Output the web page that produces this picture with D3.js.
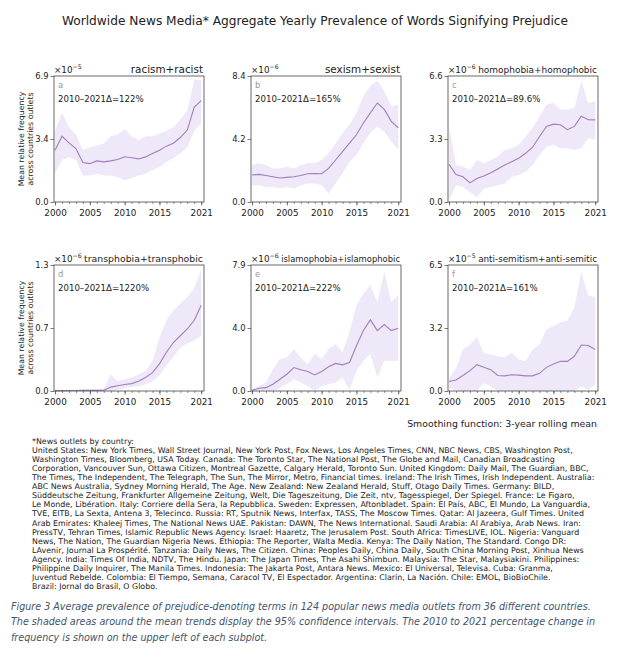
<!DOCTYPE html>
<html>
<head>
<meta charset="utf-8">
<script src="https://cdn.jsdelivr.net/npm/d3@7"></script>
<style>
  body { margin: 0; background: #fff; }
  text { font-family: "DejaVu Sans", sans-serif; }
</style>
</head>
<body>
<svg id="chart" width="628" height="651"></svg>
<script>
// years 2000..2021
const years = d3.range(2000, 2022);

// panel labels
const panelTitles = ["racism+racist", "sexism+sexist", "homophobia+homophobic",
  "transphobia+transphobic", "islamophobia+islamophobic", "anti-semitism+anti-semitic"];
const panelLetters = ["a", "b", "c", "d", "e", "f"];
const panelDeltas = ["122%", "165%", "89.6%", "1220%", "222%", "161%"];
const panelExponents = ["5", "6", "6", "6", "6", "5"];
const yMaxes = [6.9, 8.4, 6.6, 1.3, 7.9, 6.5];
const yTickLabels = [["0.0", "3.4", "6.9"], ["0.0", "4.2", "8.4"], ["0.0", "3.3", "6.6"],
  ["0.0", "0.7", "1.3"], ["0.0", "4.0", "7.9"], ["0.0", "3.2", "6.5"]];
const xTickValues = [2000, 2005, 2010, 2015, 2021];

// mean relative frequency (in units of the panel exponent)
const racismMean = [2.84, 3.6, 3.24, 2.93, 2.16, 2.1, 2.25, 2.2, 2.25, 2.33, 2.48, 2.42, 2.36, 2.47, 2.66, 2.84, 3.06, 3.22, 3.53, 3.94, 5.2, 5.55];
const racismUpper = [3.9, 4.9, 4.1, 3.7, 2.85, 3.0, 3.1, 3.2, 3.6, 3.7, 4.0, 3.6, 3.4, 3.6, 3.6, 3.75, 3.9, 4.1, 4.5, 5.0, 6.7, 6.7];
const racismLower = [1.55, 2.3, 2.45, 2.3, 1.45, 1.45, 1.55, 1.45, 1.45, 1.35, 1.2, 1.3, 1.45, 1.55, 1.75, 1.9, 2.2, 2.4, 2.65, 3.0, 3.9, 4.3];

const sexismMean = [1.8, 1.84, 1.77, 1.68, 1.6, 1.64, 1.68, 1.77, 1.88, 1.9, 1.88, 2.24, 2.8, 3.36, 3.92, 4.48, 5.27, 5.94, 6.6, 6.17, 5.38, 4.95];
const sexismUpper = [2.47, 2.58, 2.47, 2.24, 2.24, 2.35, 2.24, 2.47, 2.58, 2.58, 2.8, 3.25, 3.9, 4.6, 5.16, 5.94, 7.06, 7.73, 8.07, 7.4, 6.39, 6.5];
const sexismLower = [1.12, 1.12, 1.0, 1.0, 0.9, 1.0, 0.9, 1.12, 1.23, 1.23, 1.12, 0.56, 1.23, 1.9, 2.69, 3.14, 3.92, 4.6, 5.04, 4.7, 4.03, 3.47];

const homophobiaMean = [1.97, 1.44, 1.32, 1.0, 1.23, 1.36, 1.53, 1.73, 1.94, 2.11, 2.29, 2.55, 2.87, 3.43, 3.96, 4.08, 4.05, 3.79, 3.96, 4.49, 4.31, 4.3];
const homophobiaUpper = [3.96, 1.94, 1.85, 1.67, 2.2, 2.02, 2.2, 2.38, 2.73, 2.82, 2.99, 3.43, 3.87, 4.49, 5.1, 5.19, 4.84, 4.84, 4.93, 6.34, 5.19, 5.28];
const homophobiaLower = [0.09, 0.88, 0.79, 0.53, 0.26, 0.7, 0.79, 0.88, 0.97, 1.32, 1.41, 1.58, 1.94, 2.46, 2.9, 2.99, 2.82, 2.82, 2.73, 2.82, 3.34, 3.26];

const transphobiaMean = [0.004, 0.004, 0.005, 0.005, 0.006, 0.006, 0.006, 0.007, 0.04, 0.055, 0.067, 0.076, 0.1, 0.14, 0.19, 0.28, 0.4, 0.5, 0.57, 0.64, 0.73, 0.885];
const transphobiaUpper = [0.01, 0.01, 0.01, 0.012, 0.012, 0.012, 0.014, 0.02, 0.17, 0.1, 0.12, 0.14, 0.17, 0.21, 0.31, 0.55, 0.73, 0.83, 0.9, 0.97, 1.06, 1.25];
const transphobiaLower = [0, 0, 0, 0, 0, 0, 0, 0, 0.0, 0.01, 0.03, 0.04, 0.05, 0.07, 0.1, 0.16, 0.26, 0.35, 0.45, 0.49, 0.52, 0.57];

const islamophobiaMean = [0.04, 0.17, 0.21, 0.42, 0.74, 1.05, 1.47, 1.33, 1.22, 1.01, 1.22, 1.52, 1.73, 1.64, 1.79, 2.84, 3.79, 4.46, 3.79, 4.17, 3.79, 3.93];
const islamophobiaUpper = [0.1, 0.32, 0.53, 1.37, 2.0, 2.1, 2.63, 2.1, 1.68, 2.32, 2.0, 2.63, 2.95, 2.42, 3.68, 5.37, 6.1, 6.63, 5.58, 7.47, 5.58, 6.0];
const islamophobiaLower = [0, 0.05, 0.05, 0, 0.21, 0.42, 0.74, 0.53, 0.32, 0, 0.32, 0.42, 0.53, 0.84, 0.1, 1.26, 1.89, 2.32, 0.84, 1.89, 1.89, 1.89];

const antisemitismMean = [0.49, 0.57, 0.8, 1.05, 1.36, 1.22, 1.1, 0.8, 0.78, 0.84, 0.82, 0.78, 0.78, 0.91, 1.22, 1.39, 1.53, 1.53, 1.79, 2.37, 2.35, 2.14];
const antisemitismUpper = [0.66, 1.18, 2.14, 2.4, 2.79, 1.97, 1.88, 1.79, 1.74, 1.97, 1.62, 1.53, 2.14, 2.4, 3.19, 3.36, 3.54, 3.62, 4.32, 6.15, 4.93, 4.84];
const antisemitismLower = [0.14, 0.05, 0, 0, 0, 0.4, 0.23, 0, 0, 0, 0, 0, 0, 0, 0, 0, 0, 0, 0, 0.23, 0.05, 0.31];

const means = [racismMean, sexismMean, homophobiaMean, transphobiaMean, islamophobiaMean, antisemitismMean];
const uppers = [racismUpper, sexismUpper, homophobiaUpper, transphobiaUpper, islamophobiaUpper, antisemitismUpper];
const lowers = [racismLower, sexismLower, homophobiaLower, transphobiaLower, islamophobiaLower, antisemitismLower];

const footnoteLines = [
  "*News outlets by country:",
  "United States: New York Times, Wall Street Journal, New York Post, Fox News, Los Angeles Times, CNN, NBC News, CBS, Washington Post,",
  "Washington Times, Bloomberg, USA Today. Canada: The Toronto Star, The National Post, The Globe and Mail, Canadian Broadcasting",
  "Corporation, Vancouver Sun, Ottawa Citizen, Montreal Gazette, Calgary Herald, Toronto Sun. United Kingdom: Daily Mail, The Guardian, BBC,",
  "The Times, The Independent, The Telegraph, The Sun, The Mirror, Metro, Financial times. Ireland: The Irish Times, Irish Independent. Australia:",
  "ABC News Australia, Sydney Morning Herald, The Age. New Zealand: New Zealand Herald, Stuff, Otago Daily Times. Germany: BILD,",
  "Süddeutsche Zeitung, Frankfurter Allgemeine Zeitung, Welt, Die Tageszeitung, Die Zeit, ntv, Tagesspiegel, Der Spiegel. France: Le Figaro,",
  "Le Monde, Libération. Italy: Corriere della Sera, la Repubblica. Sweden: Expressen, Aftonbladet. Spain: El País, ABC, El Mundo, La Vanguardia,",
  "TVE, EITB, La Sexta, Antena 3, Telecinco. Russia: RT, Sputnik News, Interfax, TASS, The Moscow Times. Qatar: Al Jazeera, Gulf Times. United",
  "Arab Emirates: Khaleej Times, The National News UAE. Pakistan: DAWN, The News International. Saudi Arabia: Al Arabiya, Arab News. Iran:",
  "PressTV, Tehran Times, Islamic Republic News Agency. Israel: Haaretz, The Jerusalem Post. South Africa: TimesLIVE, IOL. Nigeria: Vanguard",
  "News, The Nation, The Guardian Nigeria News. Ethiopia: The Reporter, Walta Media. Kenya: The Daily Nation, The Standard. Congo DR:",
  "LAvenir, Journal La Prospérité. Tanzania: Daily News, The Citizen. China: Peoples Daily, China Daily, South China Morning Post, Xinhua News",
  "Agency. India: Times Of India, NDTV, The Hindu. Japan: The Japan Times, The Asahi Shimbun. Malaysia: The Star, Malaysiakini. Philippines:",
  "Philippine Daily Inquirer, The Manila Times. Indonesia: The Jakarta Post, Antara News. Mexico: El Universal, Televisa. Cuba: Granma,",
  "Juventud Rebelde. Colombia: El Tiempo, Semana, Caracol TV, El Espectador. Argentina: Clarín, La Nación. Chile: EMOL, BioBioChile.",
  "Brazil: Jornal do Brasil, O Globo."
];

const captionLines = [
  "Figure 3 Average prevalence of prejudice-denoting terms in 124 popular news media outlets from 36 different countries.",
  "The shaded areas around the mean trends display the 95% confidence intervals. The 2010 to 2021 percentage change in",
  "frequency is shown on the upper left of each subplot."
];

const svg = d3.select("#chart");
svg.append("rect").attr("width", 628).attr("height", 651).attr("fill", "#fff");

const LINE = "#a27fbb", FILL = "#efe8f8", AXIS = "#444";
const colX = [54, 251, 448], rowY = [76, 265];
const pw = 150, ph = 126;

svg.append("text").attr("x", 315).attr("y", 25).attr("text-anchor", "middle")
  .attr("font-size", 12.2).attr("fill", "#222")
  .text("Worldwide News Media* Aggregate Yearly Prevalence of Words Signifying Prejudice");

panelTitles.forEach((title, p) => {
  const ox = colX[p % 3], oy = rowY[Math.floor(p / 3)];
  const g = svg.append("g").attr("transform", `translate(${ox},${oy})`);

  const x = d3.scaleLinear().domain([1999.85, 2021.4]).range([0, pw]);
  const y = d3.scaleLinear().domain([0, yMaxes[p]]).range([ph, 0]);

  const rows = years.map((yr, i) => ({yr, m: means[p][i], lo: lowers[p][i], hi: uppers[p][i]}));

  g.append("path").datum(rows)
    .attr("fill", FILL)
    .attr("d", d3.area().x(d => x(d.yr)).y0(d => y(d.lo)).y1(d => y(d.hi)));
  g.append("path").datum(rows)
    .attr("fill", "none").attr("stroke", LINE).attr("stroke-width", 1.1)
    .attr("d", d3.line().x(d => x(d.yr)).y(d => y(d.m)));

  // minor year ticks
  g.append("g").attr("transform", `translate(0,${ph})`)
    .call(d3.axisBottom(x).tickValues(years).tickSize(2).tickFormat(""))
    .call(a => a.select(".domain").remove())
    .call(a => a.selectAll("line").attr("stroke", AXIS).attr("stroke-width", 0.6));

  const xa = g.append("g").attr("transform", `translate(0,${ph})`)
    .call(d3.axisBottom(x).tickValues(xTickValues).tickSize(3.5).tickPadding(4).tickFormat(d3.format("d")));
  xa.selectAll("text").attr("font-size", 8.8).attr("fill", "#222").attr("font-family", "DejaVu Sans");

  const ya = g.append("g")
    .call(d3.axisLeft(y).tickValues([0, yMaxes[p] / 2, yMaxes[p]]).tickSize(3.5).tickPadding(2)
      .tickFormat((d, i) => yTickLabels[p][i]));
  ya.selectAll("text").attr("font-size", 8.4).attr("fill", "#222").attr("font-family", "DejaVu Sans");

  [xa, ya].forEach(a => {
    a.select(".domain").remove();
    a.selectAll("line").attr("stroke", AXIS).attr("stroke-width", 0.7);
  });

  g.append("rect").attr("width", pw).attr("height", ph)
    .attr("fill", "none").attr("stroke", AXIS).attr("stroke-width", 0.8);

  // offset ×10^n
  const ex = g.append("text").attr("x", 0).attr("y", -3.5).attr("font-size", 8.8).attr("fill", "#222");
  ex.append("tspan").text("×10");
  ex.append("tspan").attr("dy", -4).attr("font-size", 6.2).text("−" + panelExponents[p]);

  // panel title, shrunk to fit beside the offset label
  const t = g.append("text").attr("x", pw - 1).attr("y", -3.5).attr("text-anchor", "end")
    .attr("font-size", 10.4).attr("fill", "#222").text(title);
  const tw = t.node().getComputedTextLength();
  if (tw > pw - 31) t.attr("font-size", 10.4 * (pw - 31) / tw);

  g.append("text").attr("x", 4).attr("y", 12).attr("font-size", 8.4).attr("fill", "#999").text(panelLetters[p]);
  g.append("text").attr("x", 4).attr("y", 26).attr("font-size", 8.6).attr("fill", "#222")
    .text("2010–2021Δ=" + panelDeltas[p]);

  if (p % 3 === 0) {
    const yl = g.append("text").attr("transform", `translate(-30,${ph / 2}) rotate(-90)`)
      .attr("text-anchor", "middle").attr("font-size", 7.8).attr("fill", "#222");
    yl.append("tspan").attr("x", 0).attr("dy", 0).text("Mean relative frequency");
    yl.append("tspan").attr("x", 0).attr("dy", 9).text("across countries outlets");
  }
});

svg.append("text").attr("x", 597).attr("y", 427).attr("text-anchor", "end")
  .attr("font-size", 9.4).attr("fill", "#222").text("Smoothing function: 3-year rolling mean");

svg.append("g").selectAll("text").data(footnoteLines).join("text")
  .attr("x", 32).attr("y", (d, i) => 444 + i * 9.06)
  .attr("font-family", "Liberation Sans, sans-serif")
  .attr("font-size", 7.9).attr("fill", "#222").text(d => d);

// caption: narrow italic face approximated by squeezing Lato to the caption's width
const cap = svg.append("g");
const capText = cap.selectAll("text").data(captionLines).join("text")
  .attr("x", 0).attr("y", (d, i) => i * 15.5)
  .attr("font-family", "Lato, sans-serif").attr("font-style", "italic")
  .attr("font-size", 11.2).attr("fill", "#44546a").text(d => d);
const capW = capText.node().getComputedTextLength();
cap.attr("transform", `translate(11,610) scale(${580 / capW},1)`);
</script>
</body>
</html>
